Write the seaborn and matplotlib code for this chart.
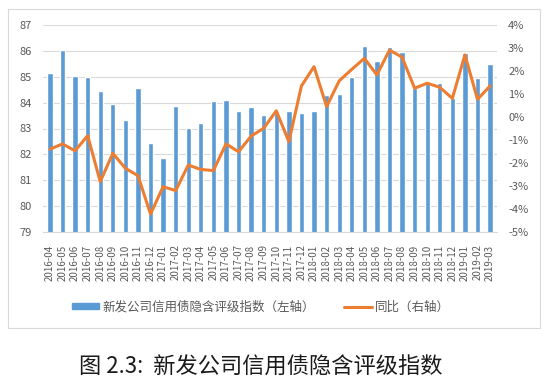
import numpy as np
import pandas as pd
import matplotlib
matplotlib.use("Agg")
import matplotlib.pyplot as plt
from matplotlib.patches import Rectangle, Patch
from matplotlib.lines import Line2D
from matplotlib.ticker import FuncFormatter, FixedLocator
import seaborn as sns

months = ["2016-04", "2016-05", "2016-06", "2016-07", "2016-08", "2016-09",
          "2016-10", "2016-11", "2016-12", "2017-01", "2017-02", "2017-03",
          "2017-04", "2017-05", "2017-06", "2017-07", "2017-08", "2017-09",
          "2017-10", "2017-11", "2017-12", "2018-01", "2018-02", "2018-03",
          "2018-04", "2018-05", "2018-06", "2018-07", "2018-08", "2018-09",
          "2018-10", "2018-11", "2018-12", "2019-01", "2019-02", "2019-03"]

index_values = [85.14, 86.03, 85.04, 84.98, 84.45, 83.94, 83.33, 84.58, 82.43,
                81.85, 83.87, 83.03, 83.23, 84.05, 84.10, 83.69, 83.82, 83.53,
                83.59, 83.69, 83.59, 83.67, 84.29, 84.32, 84.98, 86.20, 85.62,
                86.14, 85.96, 84.56, 84.81, 84.75, 84.19, 85.91, 84.94, 85.49]

yoy_pct = [-1.40, -1.17, -1.47, -0.81, -2.81, -1.58, -2.23, -2.55, -4.22,
           -3.03, -3.20, -2.09, -2.28, -2.33, -1.17, -1.51, -0.83, -0.49,
           0.27, -1.07, 1.35, 2.19, 0.45, 1.57, 2.07, 2.55, 1.83, 2.91,
           2.60, 1.25, 1.47, 1.29, 0.81, 2.70, 0.77, 1.35]

bar_label = "新发公司信用债隐含评级指数（左轴）"
line_label = "同比（右轴）"
caption = "图 2.3:  新发公司信用债隐含评级指数"

BLUE = "#5B9BD5"
ORANGE = "#ED7D31"
GRID = "#D9D9D9"
TXT = "#595959"

sns.set_style("white")
plt.rcParams["font.family"] = ["Noto Sans CJK SC", "DejaVu Sans"]
plt.rcParams["axes.unicode_minus"] = False

df = pd.DataFrame({"month": months, "index": index_values,
                   "pos": np.arange(len(months)), "yoy": yoy_pct})

fig = plt.figure(figsize=(5.5, 3.86), dpi=100)
fig.patches.append(Rectangle((8 / 550, 1 - 328 / 386), 532 / 550, 319 / 386,
                             transform=fig.transFigure, fill=False,
                             edgecolor=GRID, lw=0.8))

ax = fig.add_axes([43 / 550, 1 - 232 / 386, 454 / 550, 207 / 386])
sns.barplot(data=df, x="month", y="index", ax=ax, color=BLUE,
            saturation=1, width=0.42)
ax.set_ylim(79, 87)
ax.set_xlim(-0.55, 35.55)
ax.set_yticks(range(79, 88))
ax.grid(axis="y", color=GRID, lw=0.8)
ax.set_axisbelow(True)
ax.set_xlabel("")
ax.set_ylabel("")
for s in ["top", "left", "right"]:
    ax.spines[s].set_visible(False)
ax.spines["bottom"].set_color(GRID)
ax.tick_params(axis="y", length=0, labelsize=8, labelcolor=TXT, pad=8)
ax.tick_params(axis="x", length=0, labelsize=7, labelcolor=TXT,
               labelrotation=90, pad=9)
ax.xaxis.set_minor_locator(FixedLocator(np.arange(-0.5, 36, 1)))
ax.tick_params(axis="x", which="minor", length=3, color=GRID)

ax2 = ax.twinx()
sns.lineplot(data=df, x="pos", y="yoy", ax=ax2, color=ORANGE, lw=2.2)
ax2.set_ylim(-5, 4)
ax2.set_yticks(range(-5, 5))
ax2.yaxis.set_major_formatter(FuncFormatter(lambda v, p: f"{v:.0f}%"))
ax2.set_xlim(-0.55, 35.55)
ax2.set_xlabel("")
ax2.set_ylabel("")
for s in ax2.spines.values():
    s.set_visible(False)
ax2.tick_params(axis="y", length=0, labelsize=8, labelcolor=TXT, pad=8)

handles = [Patch(color=BLUE), Line2D([], [], color=ORANGE, lw=2.2)]
fig.legend(handles, [bar_label, line_label], loc="center",
           bbox_to_anchor=(261 / 550, 1 - 307 / 386), ncol=2, frameon=False,
           fontsize=9, labelcolor=TXT, handlelength=2.2, handleheight=0.45,
           columnspacing=2.3, handletextpad=0.3)

fig.text(261 / 550, 1 - 367 / 386, caption, ha="center", va="center",
         fontsize=16, color="#1a1a1a")

fig.savefig("out.png", dpi=100)
